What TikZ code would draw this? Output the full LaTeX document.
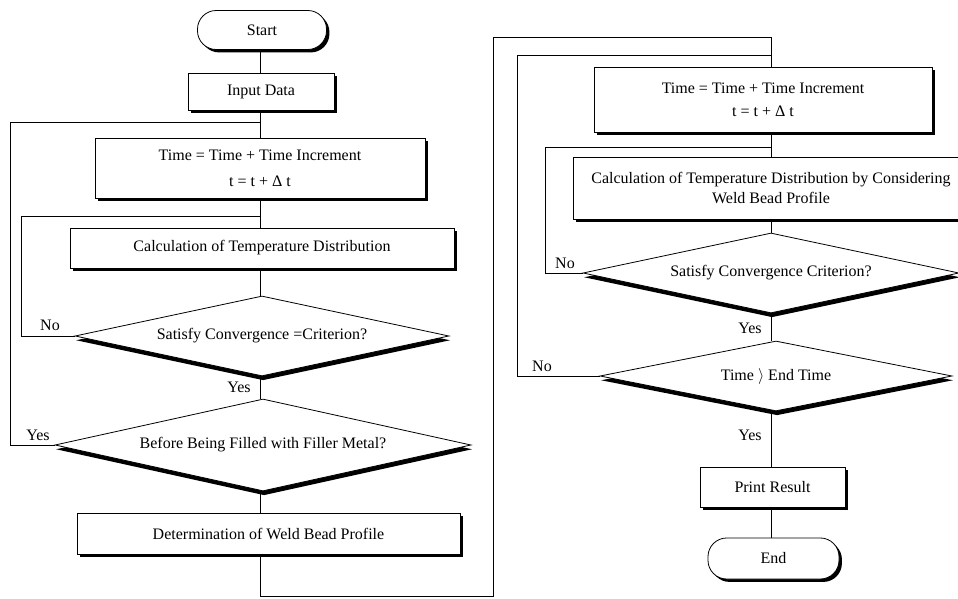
\documentclass[tikz,border=0pt]{standalone}
\usepackage{fontspec}
\setmainfont{Liberation Serif}
\usetikzlibrary{shapes.geometric,shadows}
\begin{document}
\begin{tikzpicture}[x=0.75pt,y=-0.75pt,
  every node/.style={font=\fontsize{12}{14.5}\selectfont},
  line/.style={line width=0.6pt},
  boxsh/.style={drop shadow={shadow xshift=2.2pt,shadow yshift=-2.2pt,fill=black,opacity=1}},
  procbox/.style={draw,line width=0.6pt,fill=white,rectangle,inner sep=2pt,align=center,boxsh},
  termbox/.style={draw,line width=0.6pt,fill=white,rectangle,rounded corners=14pt,inner sep=2pt,boxsh},
  decbox/.style={draw,line width=0.6pt,fill=white,diamond,inner sep=1pt,
    drop shadow={shadow xshift=0.8pt,shadow yshift=-3.2pt,fill=black,opacity=1}},
  lbl/.style={inner sep=0pt}
]
\useasboundingbox (0,0) rectangle (958,599);
% column coordinates
\coordinate (cL) at (260,0);
\coordinate (cR) at (771,0);
% left column
\node[termbox,minimum width=96.75pt,minimum height=29.25pt] (start) at (262,30) {Start};
\node[procbox,minimum width=109.5pt,minimum height=27.75pt] (input) at (261,91.5) {Input Data};
\node[procbox,minimum width=247.5pt,minimum height=45pt] (time1) at (260,168) {Time = Time + Time Increment\\[5pt] t = t + Δ t};
\node[procbox,minimum width=288pt,minimum height=30pt] (calc1) at (262,248) {Calculation of Temperature Distribution};
\node[decbox,aspect=4.7,minimum width=280.5pt,minimum height=60pt] (d1) at (262,336) {Satisfy Convergence =Criterion?};
\node[decbox,aspect=4.5,minimum width=312pt,minimum height=69pt] (d2) at (263,445) {Before Being Filled with Filler Metal?};
\node[procbox,minimum width=287.25pt,minimum height=30.75pt] (det) at (268.5,533.5) {Determination of Weld Bead Profile};
% right column
\node[procbox,minimum width=253.5pt,minimum height=48.75pt] (time2) at (763,99.5) {Time = Time + Time Increment\\[3pt] t = t + Δ t};
\node[procbox,minimum width=297pt,minimum height=46.5pt] (calc2) at (771,188) {Calculation of Temperature Distribution by Considering\\ Weld Bead Profile};
\node[decbox,aspect=4.7,minimum width=282pt,minimum height=60pt] (d3) at (771,273) {Satisfy Convergence Criterion?};
\node[decbox,aspect=5,minimum width=264pt,minimum height=52.5pt] (d4) at (776,376) {Time $\rangle$ End Time};
\node[procbox,minimum width=108.75pt,minimum height=30pt] (print) at (772.5,487) {Print Result};
\node[termbox,minimum width=98.25pt,minimum height=30.75pt] (end) at (773.5,558.5) {End};
% labels
\node[lbl] (no1) at (50,325) {No};
\node[lbl] (yes1) at (239,387) {Yes};
\node[lbl] (yes2) at (38,435) {Yes};
\node[lbl] (no3) at (565,263) {No};
\node[lbl] (yes3) at (750,328) {Yes};
\node[lbl] (no4) at (542,366) {No};
\node[lbl] (yes4) at (750,435) {Yes};
% junction and corner coordinates
\coordinate (j1) at (260,122);
\coordinate (j2) at (260,216);
\coordinate (xL1) at (10,0);
\coordinate (xL2) at (21,0);
\coordinate (b1) at (493,596);
\coordinate (b2) at (493,37);
\coordinate (b3) at (771,37);
\coordinate (j3) at (771,147);
\coordinate (j4) at (771,55);
\coordinate (xR3) at (545,0);
\coordinate (xR4) at (517,0);
% main flow left
\draw[line] (start.south -| cL) -- (input.north -| cL);
\draw[line] (input.south -| cL) -- (time1.north -| cL);
\draw[line] (time1.south -| cL) -- (calc1.north -| cL);
\draw[line] (calc1.south -| cL) -- (d1.north -| cL);
\draw[line] (d1.south -| cL) -- (d2.north -| cL);
\draw[line] (d2.south -| cL) -- (det.north -| cL);
% loops left
\draw[line] (d1.west) -- (d1.west -| xL2) |- (j2);
\draw[line] (d2.west) -- (d2.west -| xL1) |- (j1);
% connection to right column
\draw[line] (det.south -| cL) |- (b1) -- (b2) -- (b3) -- (time2.north -| cR);
% main flow right
\draw[line] (time2.south -| cR) -- (calc2.north -| cR);
\draw[line] (calc2.south -| cR) -- (d3.north -| cR);
\draw[line] (d3.south -| cR) -- (d4.north -| cR);
\draw[line] (d4.south -| cR) -- (print.north -| cR);
\draw[line] (print.south -| cR) -- (end.north -| cR);
% loops right
\draw[line] (d3.west) -- (d3.west -| xR3) |- (j3);
\draw[line] (d4.west) -- (d4.west -| xR4) |- (j4);
\end{tikzpicture}
\end{document}
